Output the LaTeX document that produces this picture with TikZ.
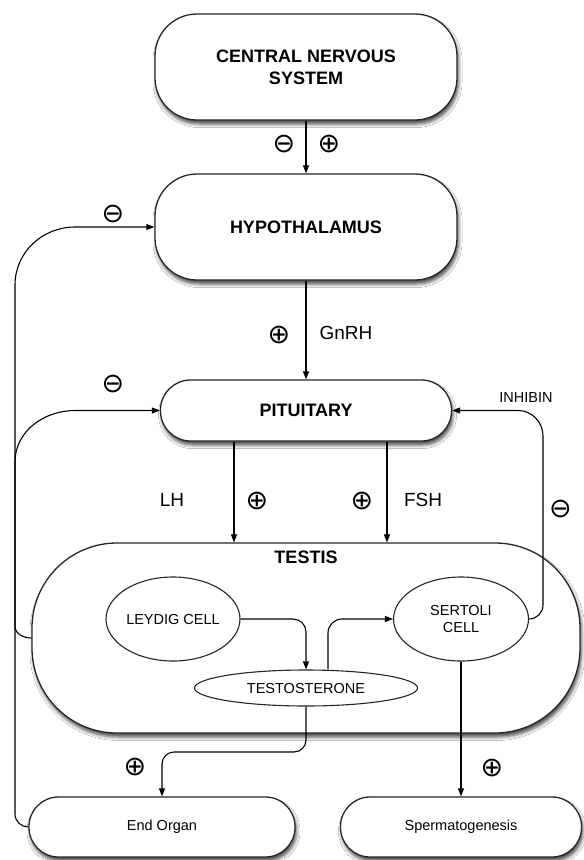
\documentclass[tikz,border=0pt]{standalone}
\usepackage{fontspec}
\setmainfont{Liberation Sans}
\newfontfamily\symf{DejaVu Sans}
\usetikzlibrary{arrows.meta,shadows.blur,shapes.geometric}

\tikzset{
 box/.style={draw=black!85, line width=1.3pt, fill=white, rectangle, align=center, inner sep=0pt,
   blur shadow={shadow xshift=1.5pt, shadow yshift=-4pt, shadow blur radius=3.5pt, shadow opacity=70}},
 bigtxt/.style={font=\fontsize{18}{22}\selectfont\bfseries},
 smalltxt/.style={font=\fontsize{14.5}{17}\selectfont},
 cell/.style={draw=black!85, line width=1.1pt, fill=white, ellipse, inner sep=0pt, align=center,
   font=\fontsize{14.5}{17}\selectfont},
 arr/.style={line width=1.1pt, -{Triangle[length=8pt,width=6pt]}},
 sym/.style={font=\symf\fontsize{27}{27}\selectfont, inner sep=0pt},
 lbl/.style={font=\fontsize{19}{22}\selectfont, inner sep=0pt},
}

\begin{document}
\begin{tikzpicture}[x=1pt,y=-1pt]
\fill[white] (0,0) rectangle (584,860);
\useasboundingbox (0,0) rectangle (584,860);

% main boxes
\node[box, bigtxt, minimum width=302pt, minimum height=106pt, rounded corners=42pt] (cns) at (306,67) {CENTRAL NERVOUS\\SYSTEM};
\node[box, bigtxt, minimum width=302pt, minimum height=106pt, rounded corners=42pt] (hyp) at (306,227) {HYPOTHALAMUS};
\node[box, bigtxt, minimum width=291pt, minimum height=61pt, rounded corners=30pt] (pit) at (306,410.5) {PITUITARY};
\node[box, minimum width=548pt, minimum height=190pt, rounded corners=85pt] (testis) at (306,638) {};
\node[bigtxt, inner sep=0pt] (testislbl) at (306,557) {TESTIS};
\node[box, smalltxt, minimum width=266pt, minimum height=60pt, rounded corners=29.5pt] (endorgan) at (162,827) {End Organ};
\node[box, smalltxt, minimum width=241pt, minimum height=60pt, rounded corners=29.5pt] (sperm) at (461,827) {Spermatogenesis};

% cells
\node[cell, minimum width=134pt, minimum height=84pt] (leydig) at (173,619) {LEYDIG CELL};
\node[cell, minimum width=135pt, minimum height=84pt] (sertoli) at (461,619) {SERTOLI\\CELL};
\node[cell, minimum width=223pt, minimum height=36pt] (testo) at (306,688) {TESTOSTERONE};

% main vertical arrows
\draw[arr] (cns.south) -- (hyp.north);
\draw[arr] (hyp.south) -- (pit.north);
\draw[arr] ([xshift=-72pt]pit.south) -- ([xshift=-72pt]testis.north);
\draw[arr] ([xshift=81pt]pit.south) -- ([xshift=81pt]testis.north);

% feedback loops on the left
\draw[arr] (endorgan.west) to[out=180,in=-90] (15,814) -- (15,285) to[out=90,in=180] (75,227) -- (hyp.west);
\draw[arr] (testis.west) to[out=180,in=-90] (15,626) -- (15,462) to[out=90,in=180] (75,410.5) -- (pit.west);

% inhibin loop on the right
\draw[arr] (sertoli.east) to[out=0,in=-90] (543,605) -- (543,436) to[out=90,in=0] (518,410.5) -- (pit.east);

% inside testis
\draw[arr] (leydig.east) -- (293,619) to[out=0,in=90] (306,632) -- (testo.north);
\draw[arr] ([xshift=22pt]testo.north) -- (328,633) to[out=90,in=180] (342,619) -- (sertoli.west);

% outputs
\draw[arr] (testo.south) -- (306,740) to[out=-90,in=0] (294,752) -- (174,752) to[out=180,in=90] (162,764) -- (endorgan.north);
\draw[arr] (sertoli.south) -- (sperm.north);

% signs
\node[sym] (s1) at (284,144) {⊖};
\node[sym] (s2) at (329,144) {⊕};
\node[sym] (s3) at (113,214) {⊖};
\node[sym] (s4) at (279,335) {⊕};
\node[sym] (s5) at (113,384) {⊖};
\node[sym] (s6) at (257,501) {⊕};
\node[sym] (s7) at (362,501) {⊕};
\node[sym] (s8) at (560.5,509) {⊖};
\node[sym] (s9) at (135,767) {⊕};
\node[sym] (s10) at (492,768) {⊕};

% labels
\node[lbl] (gnrh) at (346,333) {GnRH};
\node[lbl] (lh) at (172,500) {LH};
\node[lbl] (fsh) at (423,500) {FSH};
\node[smalltxt, inner sep=0pt] (inhibin) at (526,398) {INHIBIN};
\end{tikzpicture}
\end{document}
